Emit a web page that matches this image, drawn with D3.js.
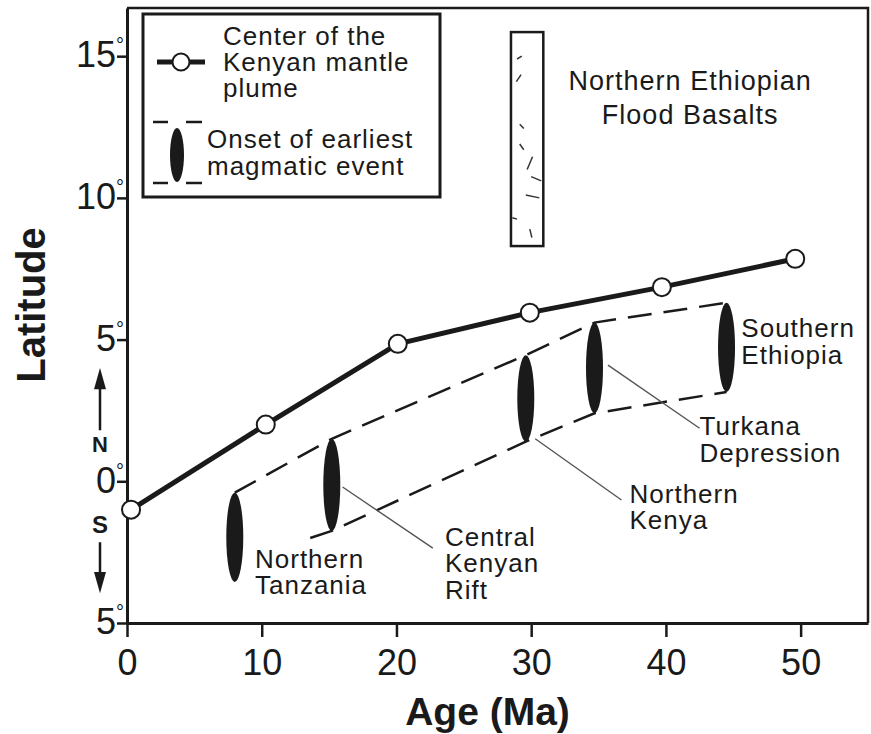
<!DOCTYPE html>
<html>
<head>
<meta charset="utf-8">
<script src="https://cdn.jsdelivr.net/npm/d3@7"></script>
<style>
  html, body { margin: 0; padding: 0; background: #fff; }
  svg { display: block; }
  text { font-family: "Liberation Sans", Arial, Helvetica, sans-serif; fill: #1a1a1a; }
</style>
</head>
<body>
<svg id="chart" width="871" height="734"></svg>
<script>
// Age (Ma) ticks and latitude ticks
const ageTicks = [0, 10, 20, 30, 40, 50];
const latTicks = [-5, 0, 5, 10, 15];

// Center of the Kenyan mantle plume through time
const plumeAge = [0.3, 10.3, 20.1, 29.9, 39.7, 49.6];
const plumeLat = [-1.0, 2.0, 4.85, 5.95, 6.85, 7.85];

// Onset of earliest magmatic event (age, latitude span)
const eventNames = ["Northern Tanzania", "Central Kenyan Rift", "Northern Kenya", "Turkana Depression", "Southern Ethiopia"];
const eventAge = [8.0, 15.2, 29.6, 34.7, 44.5];
const eventLatTop = [-0.4, 1.5, 4.45, 5.6, 6.3];
const eventLatBottom = [-3.55, -1.75, 1.4, 2.4, 3.15];

// Northern Ethiopian flood basalts (age range, latitude range)
const basaltAge = [28.5, 30.9];
const basaltLat = [8.3, 15.85];

const svg = d3.select("#chart");

const x = d3.scaleLinear().domain([0, 55]).range([127, 868]);
const y = d3.scaleLinear().domain([-5, 16.7]).range([623, 8]);

const ink = "#1a1a1a";
const labelSize = 26;
const labelSpacing = 1.0;

// frame: top and right edges
svg.append("path")
  .attr("d", `M${x(0)},${y(16.7)} H${x(55)} V${y(-5)}`)
  .attr("fill", "none").attr("stroke", ink).attr("stroke-width", 2.5);

// axes
const xAxis = d3.axisBottom(x).tickValues(ageTicks).tickSize(14).tickPadding(12).tickSizeOuter(0);
const gx = svg.append("g").attr("transform", `translate(0,${y(-5)})`).call(xAxis);
gx.select(".domain").attr("stroke", ink).attr("stroke-width", 3);
gx.selectAll(".tick line").attr("stroke", ink).attr("stroke-width", 2.5);
gx.selectAll(".tick text").attr("font-size", 36).attr("fill", ink)
  .attr("font-family", '"Liberation Sans", Arial, sans-serif');

const yAxis = d3.axisLeft(y).tickValues(latTicks).tickSize(10).tickSizeOuter(0);
const gy = svg.append("g").attr("transform", `translate(${x(0)},0)`).call(yAxis);
gy.select(".domain").attr("stroke", ink).attr("stroke-width", 3);
gy.selectAll(".tick line").attr("stroke", ink).attr("stroke-width", 2.5);
gy.selectAll(".tick text").each(function(d) {
  const t = d3.select(this).text(null)
    .attr("x", -3).attr("dy", "0.3em").attr("font-size", 36).attr("fill", ink)
    .attr("font-family", '"Liberation Sans", Arial, sans-serif');
  t.append("tspan").text(Math.abs(d));
  t.append("tspan").text("°").attr("font-size", 20).attr("dy", "-0.75em");
});

// axis titles
svg.append("text").attr("x", (x(0) + x(55)) / 2 - 10).attr("y", 725)
  .attr("text-anchor", "middle").attr("font-size", 39).attr("font-weight", "bold")
  .text("Age (Ma)");
svg.append("text").attr("transform", `translate(45,${305}) rotate(-90)`)
  .attr("text-anchor", "middle").attr("font-size", 40).attr("font-weight", "bold")
  .text("Latitude");

// N / S direction arrows beside the latitude axis
const arrowX = 100;
svg.append("line").attr("x1", arrowX).attr("x2", arrowX).attr("y1", y(1.8)).attr("y2", y(3.3))
  .attr("stroke", ink).attr("stroke-width", 2.5);
svg.append("path")
  .attr("d", `M${arrowX},${y(4.0)} L${arrowX - 6},${y(3.25)} L${arrowX + 6},${y(3.25)} Z`).attr("fill", ink);
svg.append("text").attr("x", arrowX).attr("y", y(1.03)).attr("text-anchor", "middle")
  .attr("font-size", 22).attr("font-weight", "bold").text("N");
svg.append("text").attr("x", arrowX).attr("y", y(-1.83)).attr("text-anchor", "middle")
  .attr("font-size", 24).attr("font-weight", "bold").text("S");
svg.append("line").attr("x1", arrowX).attr("x2", arrowX).attr("y1", y(-2.15)).attr("y2", y(-3.4))
  .attr("stroke", ink).attr("stroke-width", 2.5);
svg.append("path")
  .attr("d", `M${arrowX},${y(-3.95)} L${arrowX - 6},${y(-3.2)} L${arrowX + 6},${y(-3.2)} Z`).attr("fill", ink);

// flood basalt column
svg.append("rect")
  .attr("x", x(basaltAge[0])).attr("y", y(basaltLat[1]))
  .attr("width", x(basaltAge[1]) - x(basaltAge[0]))
  .attr("height", y(basaltLat[0]) - y(basaltLat[1]))
  .attr("fill", "none").attr("stroke", ink).attr("stroke-width", 2.5);
// short strokes marking the lava pattern
const basaltMarks = [
  [28.95, 14.9, 29.3, 15.0], [28.9, 14.1, 29.25, 14.35], [29.15, 12.6, 29.45, 12.45],
  [29.15, 11.9, 29.45, 11.7], [29.7, 11.0, 30.1, 11.45], [30.0, 10.75, 30.75, 10.6],
  [29.6, 10.1, 30.6, 10.0], [28.6, 9.3, 28.95, 9.25], [29.9, 8.9, 30.05, 8.6]
];
svg.append("g").selectAll("line").data(basaltMarks).join("line")
  .attr("x1", d => x(d[0])).attr("y1", d => y(d[1]))
  .attr("x2", d => x(d[2])).attr("y2", d => y(d[3]))
  .attr("stroke", "#333").attr("stroke-width", 1.5);
svg.append("text").attr("x", x(41.8)).attr("y", y(13.8)).attr("text-anchor", "middle")
  .attr("font-size", labelSize + 1).attr("letter-spacing", labelSpacing)
  .selectAll("tspan").data(["Northern Ethiopian", "Flood Basalts"]).join("tspan")
  .attr("x", x(41.8)).attr("dy", (d, i) => i ? 34 : 0).text(d => d);

// dashed envelope joining the magmatic onsets
const dash = "24,12";
const upperPts = eventAge.map((a, i) => [a, eventLatTop[i]]);
const lowerPts = [[13.6, -2.0]].concat(eventAge.slice(1).map((a, i) => [a, eventLatBottom[i + 1]]));
const line = d3.line().x(d => x(d[0])).y(d => y(d[1]));
svg.append("path").attr("d", line(upperPts)).attr("fill", "none")
  .attr("stroke", ink).attr("stroke-width", 2.5).attr("stroke-dasharray", dash);
svg.append("path").attr("d", line(lowerPts)).attr("fill", "none")
  .attr("stroke", ink).attr("stroke-width", 2.5).attr("stroke-dasharray", dash);

// leader lines and labels for each onset
const labelAge = [9.5, 23.6, 37.3, 42.5, 45.6];
const labelLat = [-3.05, -2.28, -0.76, 1.63, 5.09];
const leaderFrom = [null, [16.0, -0.2], [30.3, 1.5], [35.7, 4.1], null];
const leaderTo = [null, [22.7, -2.36], [36.7, -0.66], [42.5, 1.87], null];
const labelLines = [["Northern", "Tanzania"], ["Central", "Kenyan", "Rift"], ["Northern", "Kenya"], ["Turkana", "Depression"], ["Southern", "Ethiopia"]];

eventNames.forEach((name, i) => {
  if (leaderFrom[i]) {
    svg.append("line")
      .attr("x1", x(leaderFrom[i][0])).attr("y1", y(leaderFrom[i][1]))
      .attr("x2", x(leaderTo[i][0])).attr("y2", y(leaderTo[i][1]))
      .attr("stroke", "#555").attr("stroke-width", 1.4);
  }
  svg.append("text").attr("x", x(labelAge[i])).attr("y", y(labelLat[i]))
    .attr("font-size", labelSize).attr("letter-spacing", labelSpacing)
    .selectAll("tspan").data(labelLines[i]).join("tspan")
    .attr("x", x(labelAge[i])).attr("dy", (d, j) => j ? 26.5 : 0).text(d => d);
});

// onset ellipses
svg.append("g").selectAll("ellipse").data(eventAge).join("ellipse")
  .attr("cx", d => x(d))
  .attr("cy", (d, i) => (y(eventLatTop[i]) + y(eventLatBottom[i])) / 2)
  .attr("rx", 8.5)
  .attr("ry", (d, i) => (y(eventLatBottom[i]) - y(eventLatTop[i])) / 2)
  .attr("fill", ink);

// plume track
const plume = plumeAge.map((a, i) => [a, plumeLat[i]]);
svg.append("path").attr("d", line(plume)).attr("fill", "none")
  .attr("stroke", ink).attr("stroke-width", 5).attr("stroke-linejoin", "round");
svg.append("g").selectAll("circle").data(plume).join("circle")
  .attr("cx", d => x(d[0])).attr("cy", d => y(d[1])).attr("r", 9)
  .attr("fill", "#fff").attr("stroke", ink).attr("stroke-width", 2);

// legend
const lg = svg.append("g");
lg.append("rect").attr("x", 143).attr("y", 14).attr("width", 297).attr("height", 183)
  .attr("fill", "#fff").attr("stroke", ink).attr("stroke-width", 3);
lg.append("line").attr("x1", 157).attr("x2", 205).attr("y1", 62).attr("y2", 62)
  .attr("stroke", ink).attr("stroke-width", 5);
lg.append("circle").attr("cx", 181).attr("cy", 62).attr("r", 8.5)
  .attr("fill", "#fff").attr("stroke", ink).attr("stroke-width", 2);
lg.append("text").attr("x", 223).attr("y", 45).attr("font-size", labelSize).attr("letter-spacing", labelSpacing)
  .selectAll("tspan").data(["Center of the", "Kenyan mantle", "plume"]).join("tspan")
  .attr("x", 223).attr("dy", (d, i) => i ? 26 : 0).text(d => d);
[[153, 168], [186, 202]].forEach(s => {
  [122, 183].forEach(yy => {
    lg.append("line").attr("x1", s[0]).attr("x2", s[1]).attr("y1", yy).attr("y2", yy)
      .attr("stroke", ink).attr("stroke-width", 2.5);
  });
});
lg.append("ellipse").attr("cx", 177).attr("cy", 155).attr("rx", 7).attr("ry", 27).attr("fill", ink);
lg.append("text").attr("x", 207).attr("y", 148).attr("font-size", labelSize).attr("letter-spacing", labelSpacing)
  .selectAll("tspan").data(["Onset of earliest", "magmatic event"]).join("tspan")
  .attr("x", 207).attr("dy", (d, i) => i ? 27 : 0).text(d => d);
</script>
</body>
</html>
